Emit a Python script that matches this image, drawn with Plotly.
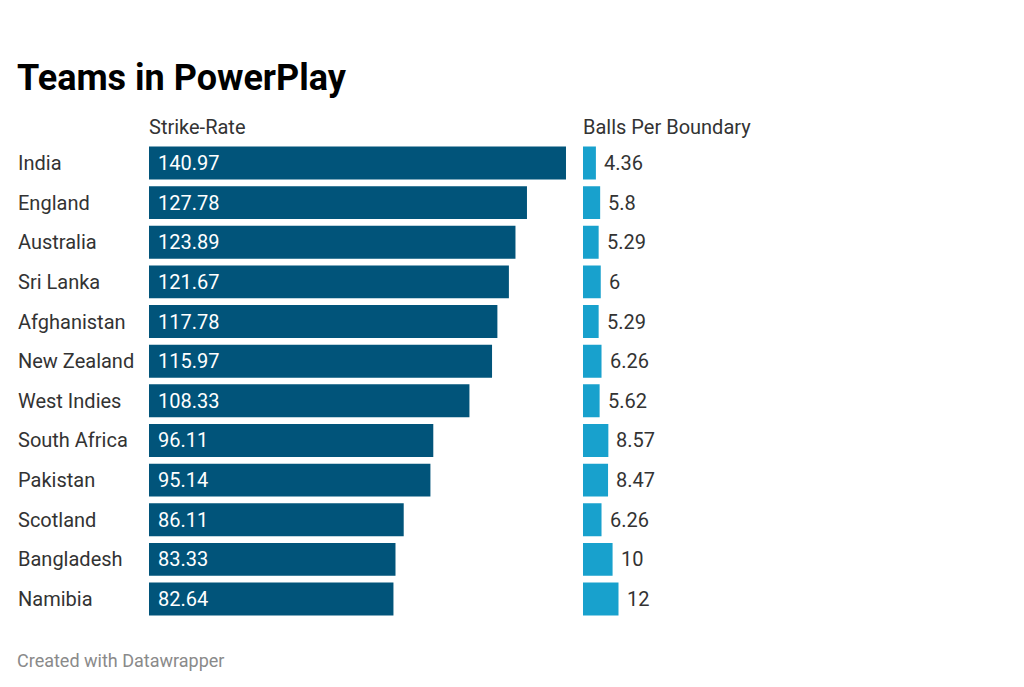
import plotly.graph_objects as go

teams = ["India", "England", "Australia", "Sri Lanka", "Afghanistan", "New Zealand",
         "West Indies", "South Africa", "Pakistan", "Scotland", "Bangladesh", "Namibia"]
strike_rate = [140.97, 127.78, 123.89, 121.67, 117.78, 115.97, 108.33, 96.11, 95.14, 86.11, 83.33, 82.64]
balls_per_boundary = [4.36, 5.8, 5.29, 6, 5.29, 6.26, 5.62, 8.57, 8.47, 6.26, 10, 12]
sr_labels = ["140.97", "127.78", "123.89", "121.67", "117.78", "115.97", "108.33", "96.11", "95.14", "86.11", "83.33", "82.64"]
bpb_labels = ["4.36", "5.8", "5.29", "6", "5.29", "6.26", "5.62", "8.57", "8.47", "6.26", "10", "12"]

W, H = 1024, 687
OFF = 8  # page offset compensation
PX = 2.958  # pixels per unit (shared scale)
FONT = "Roboto"
TXT = "#333333"

x1_start, x1_range = 149 - OFF, 145
x2_start, x2_range = 583 - OFF, 40
row0, row_step = 163 - OFF, (599 - 163) / 11
y_top = row0 - row_step / 2
y_bot = row0 + row_step * 11 + row_step / 2

fig = go.Figure()
fig.add_trace(go.Bar(y=teams, x=strike_rate, orientation="h", marker_color="#01547a",
                     marker_line_width=0, xaxis="x", yaxis="y", hoverinfo="skip"))
fig.add_trace(go.Bar(y=teams, x=balls_per_boundary, orientation="h", marker_color="#18a1cd",
                     marker_line_width=0, xaxis="x2", yaxis="y", hoverinfo="skip"))

ann = []
for t, v, l in zip(teams, strike_rate, sr_labels):
    ann.append(dict(x=0, y=t, xref="x", yref="y", text=l, showarrow=False, xanchor="left",
                    xshift=7, font=dict(family=FONT, size=20, color="white")))
for t, v, l in zip(teams, balls_per_boundary, bpb_labels):
    ann.append(dict(x=v, y=t, xref="x2", yref="y", text=l, showarrow=False, xanchor="left",
                    xshift=6, font=dict(family=FONT, size=20, color=TXT)))
for t in teams:
    ann.append(dict(x=(16 - OFF) / W, y=t, xref="paper", yref="y", text=t, showarrow=False, xanchor="left",
                    font=dict(family=FONT, size=20, color=TXT)))
ann.append(dict(x=(147 - OFF) / W, y=1 - (127 - OFF) / H, xref="paper", yref="paper", text="Strike-Rate",
                showarrow=False, xanchor="left", yanchor="middle", font=dict(family=FONT, size=20, color=TXT)))
ann.append(dict(x=(581 - OFF) / W, y=1 - (127 - OFF) / H, xref="paper", yref="paper", text="Balls Per Boundary",
                showarrow=False, xanchor="left", yanchor="middle", font=dict(family=FONT, size=20, color=TXT)))
ann.append(dict(x=(15 - OFF) / W, y=1 - (78 - OFF) / H, xref="paper", yref="paper", text="<b>Teams in PowerPlay</b>",
                showarrow=False, xanchor="left", yanchor="middle", font=dict(family=FONT, size=36, color="#000000")))
ann.append(dict(x=(15 - OFF) / W, y=1 - (660 - OFF) / H, xref="paper", yref="paper", text="Created with Datawrapper",
                showarrow=False, xanchor="left", yanchor="middle", font=dict(family=FONT, size=18, color="#8a8a8a")))

fig.update_layout(
    width=W, height=H, margin=dict(l=0, r=0, t=0, b=0),
    paper_bgcolor="white", plot_bgcolor="white", showlegend=False,
    bargap=0.17, annotations=ann,
    xaxis=dict(domain=[x1_start / W, (x1_start + x1_range * PX) / W], range=[0, x1_range],
               showgrid=False, zeroline=False, showticklabels=False, fixedrange=True),
    xaxis2=dict(domain=[x2_start / W, (x2_start + x2_range * PX) / W], range=[0, x2_range],
                showgrid=False, zeroline=False, showticklabels=False, anchor="y", fixedrange=True),
    yaxis=dict(domain=[1 - y_bot / H, 1 - y_top / H], type="category", categoryorder="array",
               categoryarray=teams, autorange=False, range=[11.5, -0.5],
               showticklabels=False, showgrid=False, zeroline=False, fixedrange=True),
)

fig.write_html("out.html", config={"displayModeBar": False})
